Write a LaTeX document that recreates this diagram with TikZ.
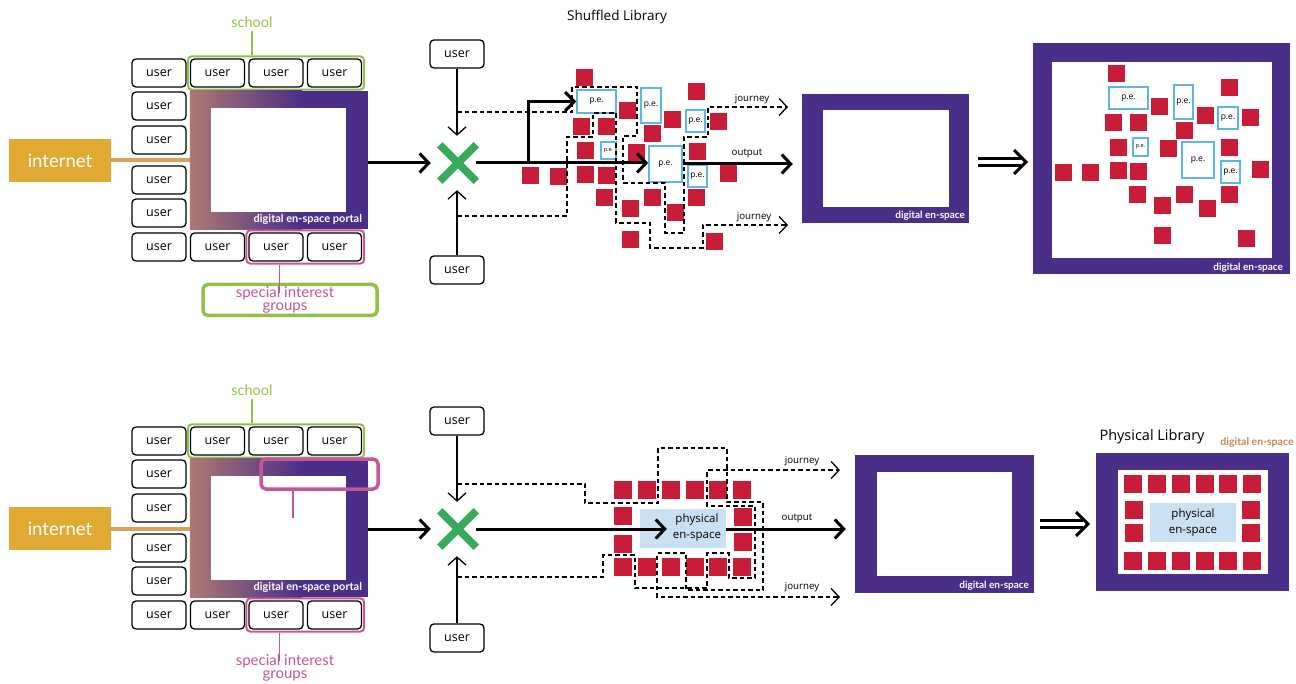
\documentclass[tikz,border=0pt]{standalone}
\usepackage{fontspec}
\setmainfont{Open Sans}
\newfontfamily\lbfont{Lato}
\usetikzlibrary{arrows.meta,positioning,calc,fit,shapes.misc}

\definecolor{enpurple}{RGB}{75,46,136}
\definecolor{enbrown}{RGB}{172,122,114}
\definecolor{bookred}{RGB}{200,29,57}
\definecolor{peblue}{RGB}{92,182,232}
\definecolor{pefill}{RGB}{202,224,243}
\definecolor{xgreen}{RGB}{56,170,92}
\definecolor{lime}{RGB}{146,192,72}
\definecolor{sigpink}{RGB}{196,86,154}
\definecolor{netorange}{RGB}{224,170,52}
\definecolor{nettan}{RGB}{214,162,92}
\definecolor{tagorange}{RGB}{190,136,90}

\tikzset{
  user/.style={draw,rounded corners=4,line width=1.3,fill=white,inner sep=0,
               minimum width=54,minimum height=28,font=\fontsize{12.5}{14}\selectfont},
  book/.style={fill=bookred,inner sep=0,minimum size=17,anchor=north west},
  pe/.style={draw=peblue,line width=1.6,fill=white,inner sep=0,
             font=\fontsize{8.5}{10}\selectfont},
  phys/.style={fill=pefill,inner sep=0,minimum width=86,minimum height=39},
  dspace/.style={fill=enpurple,inner sep=0},
  spacetag/.style={text=white,inner sep=0,anchor=base east,
                   font=\lbfont\bfseries\fontsize{10}{12}\selectfont},
  xmark/.style={cross out,draw=xgreen,line width=7.5,minimum size=29,inner sep=0},
  flow/.style={line width=3,-{Straight Barb[length=9pt,width=19pt]}},
  feed/.style={line width=1.3,-{Straight Barb[length=8pt,width=18pt]}},
  trail/.style={line width=1.3,dash pattern=on 4.5pt off 3pt,
                -{Straight Barb[length=8pt,width=17pt]}},
  lbl/.style={inner sep=0,font=\fontsize{9.7}{11}\selectfont},
  implies/.style={line width=3,double=white,double distance=4}}

% users, portal, internet and groups; #1 = name prefix
\newcommand\portalgroup[1]{%
  \foreach \x [count=\i] in {159,217.5,276,334.5}{
    \node[user] (#1t\i) at (\x,73) {user};
    \node[user] (#1b\i) at (\x,247) {user};}
  \foreach \y [count=\i] in {106,140,180,213}
    \node[user] (#1l\i) at (159,\y) {user};
  % school
  \node[draw=lime,line width=2,rounded corners=4,inner sep=2,fit=(#1t2)(#1t4)] (#1scf) {};
  \node[text=lime,font=\lbfont\fontsize{14.5}{16}\selectfont] (#1sc) at (252,22) {school};
  \draw[lime,line width=1.3] (#1sc.south) -- (#1sc.south |- #1scf.north);
  % portal
  \node[dspace,minimum width=178,minimum height=138] (#1p) at (279,160) {};
  \shade[left color=enbrown,right color=enpurple]
    (#1p.north west) rectangle ([xshift=112]#1p.south west);
  \fill[white] ([shift={(21,17)}]#1p.north west) rectangle ([shift={(-22,-17)}]#1p.south east);
  \node[spacetag,font=\lbfont\bfseries\fontsize{11}{12}\selectfont] (#1pt)
    at ([shift={(-6,-7)}]#1p.south east) {digital en-space portal};
  % internet
  \node[fill=netorange,text=white,minimum width=102,minimum height=43,inner sep=0,
        font=\lbfont\fontsize{18.5}{20}\selectfont] (#1net) at (60,160.5) {internet};
  \draw[nettan,line width=4] (#1net.east) -- (#1net.east -| #1p.west);
  % special interest groups
  \node[draw=sigpink,line width=2,rounded corners=4,inner sep=2,fit=(#1b3)(#1b4)] (#1sgf) {};
  \node[text=sigpink,align=center,inner sep=0,
        font=\lbfont\fontsize{15}{13}\selectfont] (#1sg) at (285,300) {special interest\\groups};
  \draw[sigpink,line width=1.3] ([xshift=-26]#1sgf.south) -- ++(0,28);
}

\begin{document}
\begin{tikzpicture}[x=1pt,y=-1pt]
  \useasboundingbox (0,0) rectangle (1296,684);

  %% ---------- shuffled library ----------
  \node[draw=lime,line width=3.5,rounded corners=5,minimum width=174,minimum height=31] (sgbox) at (290,300) {};
  \portalgroup{}

  \node[font=\fontsize{13.5}{15}\selectfont] (shuf) at (617,17) {Shuffled Library};
  \node[user] (ua) at (457,54) {user};
  \node[user] (ub) at (457,270) {user};
  \node[xmark] (xa) at (458,163) {};
  \coordinate (xan) at ([yshift=9]xa.north);
  \coordinate (xas) at ([yshift=-9]xa.south);
  \draw[flow] (xa -| p.east) -- ([xshift=-9]xa.west);
  \draw[feed] (ua) -- (ua |- xan);
  \draw[feed] (ub) -- (ub |- xas);

  \foreach \x/\y [count=\i] in {576/69,688/83,619/102,664/111,710/113,573/118,598/118,
      644/125,577/142,628/144,689/143,522/167,550/168,577/166,598/167,720/165,
      596/189,644/189,688/189,622/200,667/204,622/231,706/233}
    \node[book] (ra\i) at (\x,\y) {};
  \node[pe,minimum width=39,minimum height=23] (pe1) at (596.5,101.5) {p.e.};
  \node[pe,minimum width=20,minimum height=35] (pe2) at (651,105.5) {p.e.};
  \node[pe,minimum width=19,minimum height=22] (pe3) at (695.5,121) {p.e.};
  \node[pe,minimum width=15,minimum height=17,font=\fontsize{5.5}{6}\selectfont] (pe4) at (608.5,150.5) {p.e.};
  \node[pe,minimum width=33,minimum height=36] (pe5) at (665.5,164) {p.e.};
  \node[pe,minimum width=19,minimum height=22] (pe6) at (697.5,176) {p.e.};

  \coordinate (sa) at (457,112);
  \coordinate (sb) at (457,216);
  \coordinate (ja) at (788,107);
  \coordinate (jb) at (788,225);
  \draw[trail] (sa) -- (572,112) -- (572,87) -- (637,87) -- (637,136) -- (623,136)
    -- (623,183) -- (665,183) -- (665,233) -- (684,233) -- (684,137) -- (708,137)
    -- (708,107) -- (ja);
  \draw[trail] (sb) -- (567,216) -- (567,137) -- (593,137) -- (593,113) -- (616,113)
    -- (616,223) -- (650,223) -- (650,248) -- (703,248) -- (703,225) -- (jb);
  \node[lbl] (jla) at (752,99) {journey};
  \node[lbl] (jlb) at (754,217) {journey};
  \node[lbl] (outa) at (747,153) {output};

  \node[dspace,minimum width=167,minimum height=129] (dsa) at (885.5,158.5) {};
  \fill[white] ([shift={(21,16)}]dsa.north west) rectangle ([shift={(-20,-16)}]dsa.south east);
  \node[spacetag] (dsat) at ([shift={(-4,-5)}]dsa.south east) {digital en-space};

  \coordinate (fork) at (528,163);
  \draw[flow] (xa.east) -- (xa.east -| pe5.west);
  \draw[flow] (fork) |- (pe1.west);
  \draw[flow,shorten >=9] (pe5.east) -- (pe5.east -| dsa.west);

  \coordinate (ia) at (978,162);
  \coordinate (ib) at (1026,162);
  \draw[implies] (ia) -- ([xshift=-5]ib);
  \draw[line width=3] ([shift={(-12,-12)}]ib) -- (ib) -- ([shift={(-12,12)}]ib);

  \node[dspace,minimum width=257,minimum height=231] (dsb) at (1161.5,158.5) {};
  \fill[white] ([shift={(19,19)}]dsb.north west) rectangle ([shift={(-18,-16)}]dsb.south east);
  \node[spacetag] (dsbt) at ([shift={(-7,-4)}]dsb.south east) {digital en-space};
  \foreach \x/\y [count=\i] in {1108/65,1151/98,1105/114,1130/114,1197/107,1221/79,
      1242/109,1176/122,1110/139,1160/140,1221/139,1055/164,1082/164,1110/162,
      1130/163,1252/161,1129/186,1176/186,1221/186,1154/197,1199/200,1154/227,1238/230}
    \node[book] (rb\i) at (\x,\y) {};
  \node[pe,minimum width=39,minimum height=22] (pf1) at (1128.5,98) {p.e.};
  \node[pe,minimum width=19,minimum height=34] (pf2) at (1183.5,102) {p.e.};
  \node[pe,minimum width=20,minimum height=22] (pf3) at (1228,118) {p.e.};
  \node[pe,minimum width=15,minimum height=18,font=\fontsize{5.5}{6}\selectfont] (pf4) at (1140.5,147) {p.e.};
  \node[pe,minimum width=32,minimum height=36] (pf5) at (1198,160) {p.e.};
  \node[pe,minimum width=19,minimum height=22] (pf6) at (1230.5,172) {p.e.};

  %% ---------- physical library ----------
  \begin{scope}[shift={(0,368)}]
    \portalgroup{q}
  \end{scope}
  \node[draw=sigpink,line width=3.5,rounded corners=5,minimum width=117,minimum height=30] (sgwin) at (319.5,474) {};
  \draw[sigpink,line width=1.3] ([xshift=-26.5]sgwin.south) -- ++(0,27);

  \node[user] (uc) at (457,421) {user};
  \node[user] (ud) at (457,638) {user};
  \node[xmark] (xb) at (458,529) {};
  \coordinate (xbn) at ([yshift=9]xb.north);
  \coordinate (xbs) at ([yshift=-9]xb.south);
  \draw[flow] (xb -| qp.east) -- ([xshift=-9]xb.west);
  \draw[feed] (uc) -- (uc |- xbn);
  \draw[feed] (ud) -- (ud |- xbs);

  \node[phys] (pc) at (683,528.5) {};
  \node[align=center,inner sep=0,font=\fontsize{11.5}{16}\selectfont] (pct) at (697,528) {physical\\en-space};
  \foreach \x [count=\i] in {614,638,662,686,709,733}{
    \node[book,minimum size=18] (rc\i) at (\x,481) {};
    \node[book,minimum size=18] (rd\i) at (\x,558) {};}
  \foreach \y [count=\i] in {507,535}
    \node[book,minimum size=18] (re\i) at (614,\y) {};
  \foreach \y [count=\i] in {508,533}
    \node[book,minimum size=18] (rf\i) at (734,\y) {};

  \coordinate (sc) at (457,484);
  \coordinate (sd) at (457,577);
  \coordinate (jc) at (840,470);
  \coordinate (jd) at (840,597);
  \draw[trail] (sc) -- (585,484) -- (585,503) -- (658,503) -- (658,448) -- (727,448)
    -- (727,502) -- (763,502) -- (763,590) -- (686,590) -- (686,553) -- (657,553)
    -- (657,597) -- (jd);
  \draw[trail] (sd) -- (603,577) -- (603,555) -- (635,555) -- (635,588) -- (707,588)
    -- (707,553) -- (729,553) -- (729,578) -- (755,578) -- (755,506) -- (707,506)
    -- (707,470) -- (jc);
  \node[lbl] (jlc) at (802,461) {journey};
  \node[lbl] (jld) at (802,587) {journey};
  \node[lbl] (outb) at (797,518) {output};

  \node[dspace,minimum width=179,minimum height=138] (dsc) at (944.5,524) {};
  \fill[white] ([shift={(22,17)}]dsc.north west) rectangle ([shift={(-22,-17)}]dsc.south east);
  \node[spacetag] (dsct) at ([shift={(-5,-5)}]dsc.south east) {digital en-space};

  \coordinate (pcin) at ([xshift=27]pc.west);
  \draw[flow] (xb.east) -- (xb.east -| pcin);
  \draw[flow,shorten >=9] (xb -| pc.east) -- (xb -| dsc.west);

  \coordinate (ic) at (1040,524);
  \coordinate (id) at (1088,524);
  \draw[implies] (ic) -- ([xshift=-5]id);
  \draw[line width=3] ([shift={(-12,-12)}]id) -- (id) -- ([shift={(-12,12)}]id);

  \node[font=\fontsize{14.5}{16}\selectfont] (plib) at (1152,437) {Physical Library};
  \node[text=tagorange,inner sep=0,font=\lbfont\bfseries\fontsize{10.5}{12}\selectfont] (ptag) at (1257,443) {digital en-space};
  \node[dspace,minimum width=193,minimum height=138] (dsd) at (1192.5,522) {};
  \fill[white] ([shift={(22,17)}]dsd.north west) rectangle ([shift={(-21,-17)}]dsd.south east);
  \foreach \x [count=\i] in {1124,1148,1172,1196,1219,1243}{
    \node[book,minimum size=18] (rg\i) at (\x,475) {};
    \node[book,minimum size=18] (rh\i) at (\x,552) {};}
  \foreach \y [count=\i] in {501,524}{
    \node[book,minimum size=18] (ri\i) at (1125,\y) {};
    \node[book,minimum size=18] (rj\i) at (1242,\y) {};}
  \node[phys,align=center,font=\fontsize{11.5}{16}\selectfont] (pd) at (1193,522.5) {physical\\en-space};
\end{tikzpicture}
\end{document}
